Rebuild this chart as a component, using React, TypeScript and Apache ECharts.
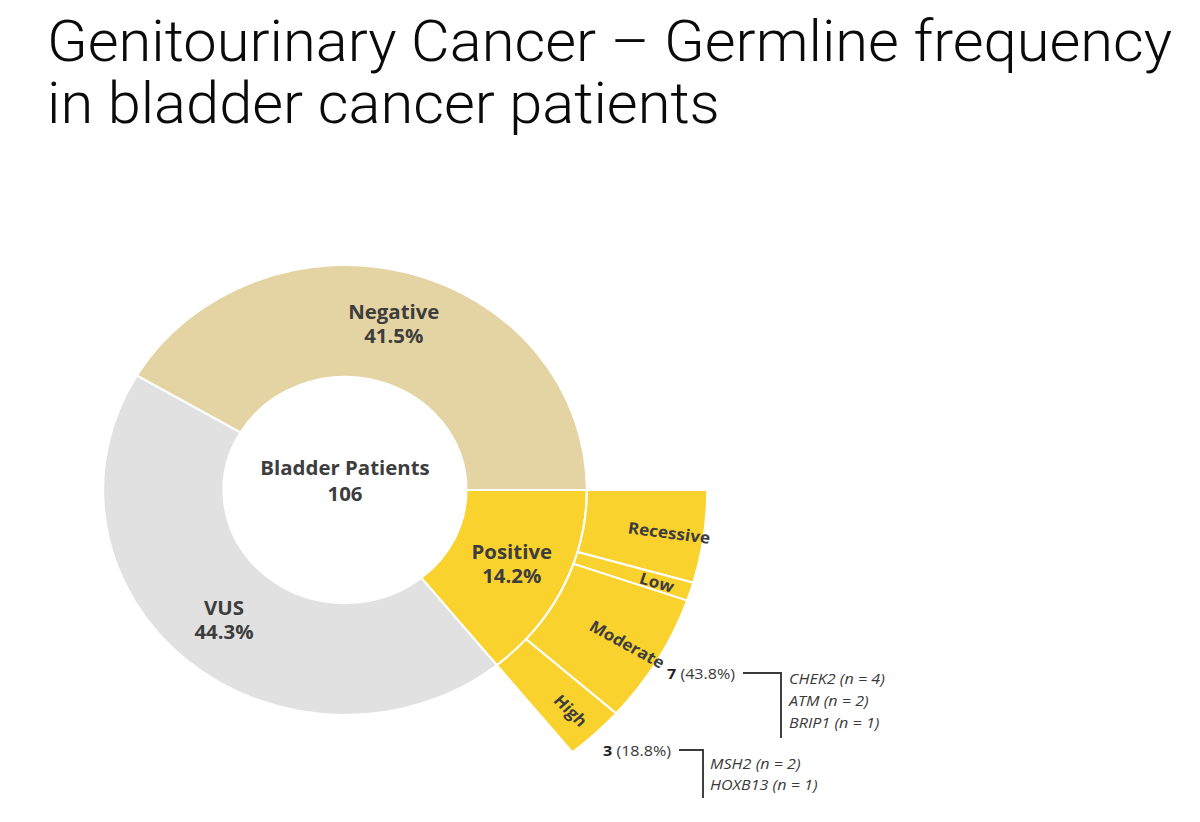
import React, { useEffect, useRef } from 'react';
import * as echarts from 'echarts';

// ---- data ----
const TITLE_LINES = ['Genitourinary Cancer – Germline frequency', 'in bladder cancer patients'];
const CENTER_LABEL = 'Bladder Patients';
const TOTAL_PATIENTS = 106;

const resultNames = ['Positive', 'VUS', 'Negative'];
const resultPercents = [14.2, 44.3, 41.5];
const resultColors = ['#F9D22E', '#E1E1E1', '#E5D4A3'];

const riskNames = ['Recessive', 'Low', 'Moderate', 'High'];
const riskCounts = [5, 1, 7, 3];

const moderateGenes = ['CHEK2', 'ATM', 'BRIP1'];
const moderateGeneCounts = [4, 2, 1];
const highGenes = ['MSH2', 'HOXB13'];
const highGeneCounts = [2, 1];

// horizontal stretch of the reference figure
const SX = 1.075;
const X = (x: number) => x / SX;

const LABEL_COLOR = '#3d3d3d';
const FONT = '"Open Sans", "Noto Sans", sans-serif';

export default function App() {
  const ref = useRef<HTMLDivElement>(null);

  useEffect(() => {
    const chart = echarts.init(ref.current!, null, { renderer: 'svg' });
    const center = [X(345), 490];

    const riskTotal = riskCounts.reduce((a, b) => a + b, 0);
    const posShare = resultPercents[0] / 100;
    const restValue = (riskTotal * (1 - posShare)) / posShare;
    const positiveAngle = 360 * posShare;

    const innerData = resultNames.map((n, i) => ({
      name: n,
      value: resultPercents[i],
      itemStyle: { color: resultColors[i] },
    }));

    const outerData = [
      ...riskNames.map((n, i) => ({
        name: n,
        value: riskCounts[i],
        itemStyle: { color: resultColors[0] },
      })),
      {
        name: '',
        value: restValue,
        itemStyle: { color: 'rgba(0,0,0,0)', borderWidth: 0 },
        label: { show: false },
      },
    ];

    // label ring: same partition, transparent, labels rotated along the arc
    let cum = 0;
    const labelRingData = outerData.map((d, i) => {
      const mid = i < riskNames.length ? ((cum + d.value / 2) / riskTotal) * positiveAngle : 0;
      cum += i < riskNames.length ? d.value : 0;
      return {
        name: d.name,
        value: d.value,
        itemStyle: { color: 'rgba(0,0,0,0)', borderWidth: 0 },
        label: { show: d.name !== '', rotate: -mid },
      };
    });

    const pct = (c: number) => ((c / riskTotal) * 100).toFixed(1);
    const modIdx = riskNames.indexOf('Moderate');
    const highIdx = riskNames.indexOf('High');

    const annoFont = { fontFamily: FONT, fontSize: 15, fill: '#3a3a3a' };
    const graphics: any[] = [];

    // title (counter-scaled so it is not stretched by the figure stretch)
    TITLE_LINES.forEach((t, i) => {
      graphics.push({
        type: 'text',
        x: X(47),
        y: 41 + i * 62,
        scaleX: 1.028 / SX,
        style: {
          text: t,
          fontFamily: 'Roboto, sans-serif',
          fontWeight: 300,
          fontSize: 58,
          fill: '#0a0a0a',
          textAlign: 'left',
          textVerticalAlign: 'middle',
        },
      });
    });

    // center label
    graphics.push({
      type: 'text',
      x: X(345),
      y: 481,
      style: {
        text: `${CENTER_LABEL}\n${TOTAL_PATIENTS}`,
        fontFamily: FONT,
        fontWeight: 'bold',
        fontSize: 19,
        lineHeight: 26,
        fill: LABEL_COLOR,
        textAlign: 'center',
        textVerticalAlign: 'middle',
      },
    });

    // moderate annotation
    graphics.push({
      type: 'text',
      x: X(667),
      y: 673,
      style: {
        text: `{b|${riskCounts[modIdx]}} (${pct(riskCounts[modIdx])}%)`,
        ...annoFont,
        textVerticalAlign: 'middle',
        rich: { b: { fontWeight: 'bold', fontFamily: FONT, fontSize: 15, fill: '#222' } },
      },
    });
    graphics.push({
      type: 'polyline',
      shape: { points: [[X(743), 673], [X(781), 673], [X(781), 738]] },
      style: { stroke: '#3a3a3a', lineWidth: 1.8, fill: 'none' },
    });
    moderateGenes.forEach((g, i) => {
      graphics.push({
        type: 'text',
        x: X(789),
        y: 678 + i * 22,
        style: {
          text: `${g} (n = ${moderateGeneCounts[i]})`,
          ...annoFont,
          fontStyle: 'italic',
          textVerticalAlign: 'middle',
        },
      });
    });

    // high annotation
    graphics.push({
      type: 'text',
      x: X(603),
      y: 750,
      style: {
        text: `{b|${riskCounts[highIdx]}} (${pct(riskCounts[highIdx])}%)`,
        ...annoFont,
        textVerticalAlign: 'middle',
        rich: { b: { fontWeight: 'bold', fontFamily: FONT, fontSize: 15, fill: '#222' } },
      },
    });
    graphics.push({
      type: 'polyline',
      shape: { points: [[X(679), 750], [X(703), 750], [X(703), 798]] },
      style: { stroke: '#3a3a3a', lineWidth: 1.8, fill: 'none' },
    });
    highGenes.forEach((g, i) => {
      graphics.push({
        type: 'text',
        x: X(710),
        y: 763 + i * 21,
        style: {
          text: `${g} (n = ${highGeneCounts[i]})`,
          ...annoFont,
          fontStyle: 'italic',
          textVerticalAlign: 'middle',
        },
      });
    });

    chart.setOption({
      animation: false,
      backgroundColor: '#ffffff',
      graphic: graphics,
      series: [
        {
          type: 'pie',
          name: 'Result',
          center,
          radius: [113, 225],
          startAngle: 0,
          clockwise: true,
          silent: true,
          avoidLabelOverlap: false,
          itemStyle: { borderColor: '#ffffff', borderWidth: 2 },
          label: {
            show: true,
            position: 'inside',
            formatter: '{b}\n{c}%',
            fontFamily: FONT,
            fontWeight: 'bold',
            fontSize: 19,
            lineHeight: 24,
            color: LABEL_COLOR,
          },
          labelLine: { show: false },
          data: innerData,
        },
        {
          type: 'pie',
          name: 'Risk',
          center,
          radius: [225, 337],
          startAngle: 0,
          clockwise: true,
          silent: true,
          avoidLabelOverlap: false,
          itemStyle: { borderColor: '#ffffff', borderWidth: 2 },
          label: { show: false },
          labelLine: { show: false },
          data: outerData,
        },
        {
          type: 'pie',
          name: 'RiskLabels',
          center,
          radius: [225, 378],
          startAngle: 0,
          clockwise: true,
          silent: true,
          avoidLabelOverlap: false,
          minShowLabelAngle: 0,
          label: {
            position: 'inside',
            formatter: '{b}',
            fontFamily: FONT,
            fontWeight: 'bold',
            fontSize: 16,
            color: LABEL_COLOR,
          },
          labelLine: { show: false },
          data: labelRingData,
        },
      ],
    });

    return () => chart.dispose();
  }, []);

  return (
    <div
      style={{
        position: 'fixed',
        left: 0,
        top: 0,
        width: 1200,
        height: 822,
        overflow: 'hidden',
        background: '#fff',
      }}
    >
      <div
        ref={ref}
        style={{
          width: 1200 / SX,
          height: 822,
          transform: `scaleX(${SX})`,
          transformOrigin: '0 0',
        }}
      />
    </div>
  );
}
